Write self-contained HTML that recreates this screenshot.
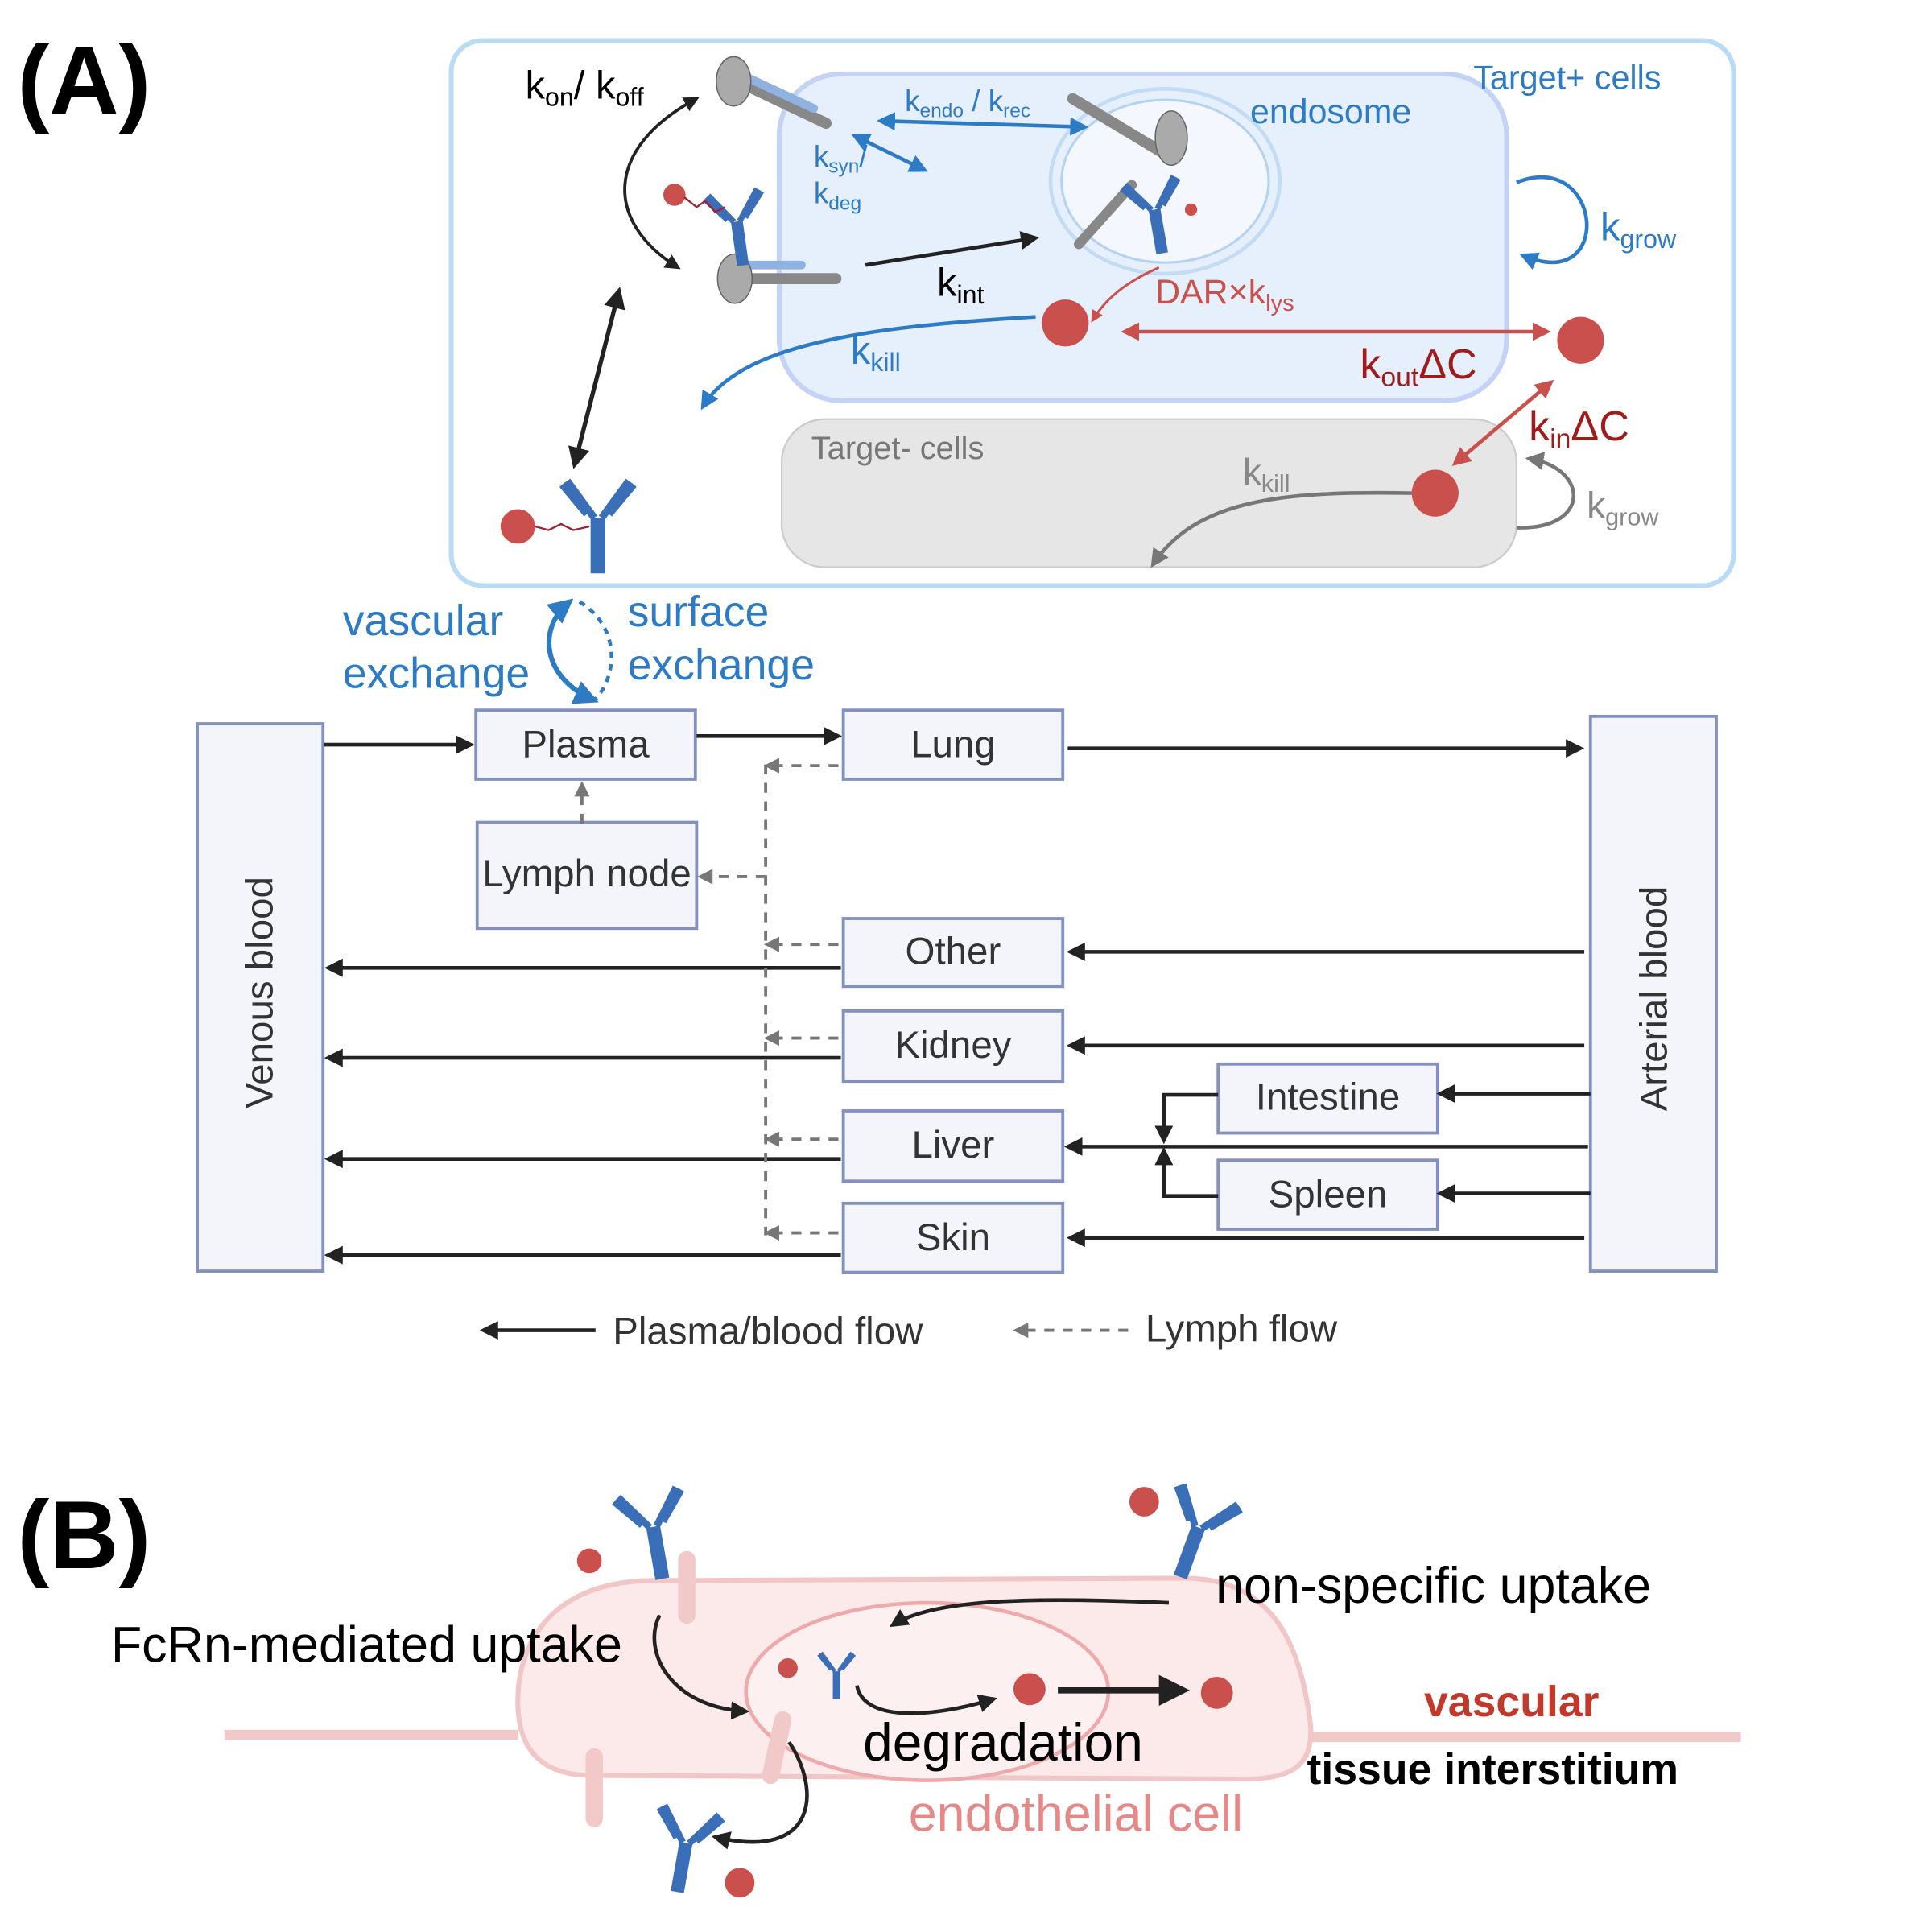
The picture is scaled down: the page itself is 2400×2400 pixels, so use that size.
<!DOCTYPE html>
<html><head><meta charset="utf-8"><style>
html,body{margin:0;padding:0;background:#fff;}
svg{display:block;}
text{font-family:"Liberation Sans",sans-serif;}
</style></head><body>
<svg width="2400" height="2400" viewBox="0 0 1567 1567" xmlns="http://www.w3.org/2000/svg">
<defs>
<marker id="ak" viewBox="0 0 10 10" refX="8" refY="5" markerWidth="5" markerHeight="5" orient="auto-start-reverse"><path d="M0,0L10,5L0,10z" fill="#222"/></marker>
<marker id="ab" viewBox="0 0 10 10" refX="8" refY="5" markerWidth="5" markerHeight="5" orient="auto-start-reverse"><path d="M0,0L10,5L0,10z" fill="#2d7bc4"/></marker>
<marker id="ar" viewBox="0 0 10 10" refX="8" refY="5" markerWidth="5" markerHeight="5" orient="auto-start-reverse"><path d="M0,0L10,5L0,10z" fill="#c9504c"/></marker>
<marker id="ag" viewBox="0 0 10 10" refX="8" refY="5" markerWidth="5" markerHeight="5" orient="auto-start-reverse"><path d="M0,0L10,5L0,10z" fill="#777"/></marker>
<g id="ab1">
<path d="M0,0 L0,-45 M-6,0 L-6,-45 M0,-45 L22,-75 M-6,-45 L-28,-75 M6,-48 L26,-72 M-12,-48 L-32,-72" stroke="#3a6fb8" stroke-width="6" fill="none"/>
</g>
</defs>

<!-- (A) -->
<text x="14" y="92" font-size="78" font-weight="bold">(A)</text>
<rect x="366" y="33" width="1040" height="442" rx="25" fill="#fff" stroke="#b9dcf4" stroke-width="4"/>
<rect x="632" y="60" width="590" height="265" rx="50" fill="#e6f0fd" stroke="#c4d3f5" stroke-width="4"/>
<ellipse cx="945" cy="147" rx="93" ry="75" fill="none" stroke="#c3dbf3" stroke-width="3"/>
<ellipse cx="945" cy="147" rx="84" ry="66" fill="#f4f8fe" stroke="#b5d2f0" stroke-width="2"/>
<rect x="634" y="340" width="596" height="120" rx="35" fill="#e6e6e6" stroke="#ccc" stroke-width="1.5"/>

<text x="1195" y="72" font-size="27" fill="#2d7bc4">Target+ cells</text>
<text x="1014" y="100" font-size="28" fill="#2d7bc4">endosome</text>
<text x="426" y="80" font-size="32">k<tspan font-size="21" dy="6">on</tspan><tspan dy="-6">/ k</tspan><tspan font-size="21" dy="6">off</tspan></text>
<text x="734" y="90" font-size="24" fill="#2d7bc4">k<tspan font-size="16" dy="5">endo</tspan><tspan dy="-5"> / k</tspan><tspan font-size="16" dy="5">rec</tspan></text>
<text x="660" y="135" font-size="24" fill="#2d7bc4">k<tspan font-size="16" dy="5">syn</tspan><tspan dy="-5">/</tspan></text>
<text x="660" y="165" font-size="24" fill="#2d7bc4">k<tspan font-size="16" dy="5">deg</tspan></text>
<text x="760" y="240" font-size="32">k<tspan font-size="21" dy="6">int</tspan></text>
<text x="1298" y="195" font-size="32" fill="#2d7bc4">k<tspan font-size="21" dy="6">grow</tspan></text>
<text x="937" y="246" font-size="28" fill="#c9504c">DAR×k<tspan font-size="19" dy="6">lys</tspan></text>
<text x="690" y="295" font-size="32" fill="#2d7bc4">k<tspan font-size="21" dy="6">kill</tspan></text>
<text x="1103" y="307" font-size="34" fill="#a01c1c">k<tspan font-size="22" dy="6">out</tspan><tspan dy="-6">ΔC</tspan></text>
<text x="1240" y="357" font-size="34" fill="#a01c1c">k<tspan font-size="22" dy="6">in</tspan><tspan dy="-6">ΔC</tspan></text>
<text x="658" y="372" font-size="26" fill="#777">Target- cells</text>
<text x="1008" y="393" font-size="30" fill="#888">k<tspan font-size="20" dy="6">kill</tspan></text>
<text x="1287" y="420" font-size="30" fill="#888">k<tspan font-size="20" dy="6">grow</tspan></text>

<!-- receptors -->
<g stroke-linecap="round">
<line x1="590" y1="62" x2="670" y2="100" stroke="#888" stroke-width="9"/>
<line x1="600" y1="60" x2="660" y2="88" stroke="#8fb2e0" stroke-width="7"/>
<ellipse cx="595" cy="66" rx="14" ry="20" fill="#aaa" stroke="#666"/>
<line x1="595" y1="226" x2="678" y2="226" stroke="#888" stroke-width="9"/>
<line x1="600" y1="215" x2="650" y2="215" stroke="#8fb2e0" stroke-width="7"/>
<ellipse cx="596" cy="226" rx="14" ry="20" fill="#aaa" stroke="#666"/>
<line x1="870" y1="80" x2="945" y2="125" stroke="#888" stroke-width="9"/>
<ellipse cx="950" cy="112" rx="13" ry="22" fill="#aaa" stroke="#666"/>
<line x1="918" y1="150" x2="875" y2="198" stroke="#888" stroke-width="8"/>
</g>
<use href="#ab1" transform="translate(605,215) rotate(-8) scale(0.8)"/>
<use href="#ab1" transform="translate(945,205) rotate(-10) scale(0.8)"/>
<circle cx="547" cy="158" r="9" fill="#c9504c"/>
<polyline points="555,160 565,168 572,163 580,172 588,168" fill="none" stroke="#a02030" stroke-width="1.5"/>
<circle cx="966" cy="170" r="5" fill="#c9504c"/>
<use href="#ab1" transform="translate(488,465)"/>
<circle cx="420" cy="427" r="14" fill="#c9504c"/>
<polyline points="434,427 445,430 455,425 465,430 478,427" fill="none" stroke="#a02030" stroke-width="1.5"/>

<!-- arrows top -->
<path d="M565,80 C490,120 490,180 550,217" fill="none" stroke="#222" stroke-width="2.5" marker-start="url(#ak)" marker-end="url(#ak)"/>
<line x1="502" y1="236" x2="466" y2="377" stroke="#222" stroke-width="3.5" marker-start="url(#ak)" marker-end="url(#ak)"/>
<line x1="714" y1="98" x2="880" y2="103" stroke="#2d7bc4" stroke-width="3" marker-start="url(#ab)" marker-end="url(#ab)"/>
<line x1="693" y1="110" x2="750" y2="138" stroke="#2d7bc4" stroke-width="3" marker-start="url(#ab)" marker-end="url(#ab)"/>
<line x1="702" y1="215" x2="840" y2="193" stroke="#222" stroke-width="3" marker-end="url(#ak)"/>
<path d="M840,257 C700,265 600,280 570,330" fill="none" stroke="#2d7bc4" stroke-width="3" marker-end="url(#ab)"/>
<path d="M940,217 C910,230 895,245 886,260" fill="none" stroke="#c9504c" stroke-width="2" marker-end="url(#ar)"/>
<circle cx="864" cy="262" r="19" fill="#c9504c"/>
<circle cx="1282" cy="276" r="19" fill="#c9504c"/>
<circle cx="1164" cy="400" r="19" fill="#c9504c"/>
<line x1="912" y1="269" x2="1255" y2="269" stroke="#c9504c" stroke-width="3" marker-start="url(#ar)" marker-end="url(#ar)"/>
<line x1="1258" y1="310" x2="1180" y2="376" stroke="#c9504c" stroke-width="3" marker-start="url(#ar)" marker-end="url(#ar)"/>
<path d="M1230,148 C1300,120 1310,240 1235,207" fill="none" stroke="#2d7bc4" stroke-width="3" marker-end="url(#ab)"/>
<path d="M1145,400 C1040,398 970,405 935,458" fill="none" stroke="#777" stroke-width="3" marker-end="url(#ag)"/>
<path d="M1230,428 C1290,430 1290,380 1240,372" fill="none" stroke="#777" stroke-width="3" marker-end="url(#ag)"/>

<text x="278" y="515" font-size="35" fill="#2d7bc4">vascular</text>
<text x="278" y="558" font-size="35" fill="#2d7bc4">exchange</text>
<text x="509" y="508" font-size="35" fill="#2d7bc4">surface</text>
<text x="509" y="551" font-size="35" fill="#2d7bc4">exchange</text>
<path d="M462,488 C435,510 440,550 482,568" fill="none" stroke="#2d7bc4" stroke-width="4" marker-start="url(#ab)" marker-end="url(#ab)"/>
<path d="M470,488 C505,510 500,550 482,568" fill="none" stroke="#2d7bc4" stroke-width="3" stroke-dasharray="5,5"/>

<!-- boxes -->
<g fill="#f3f5fb" stroke="#8490bd" stroke-width="2.5">
<rect x="160" y="587" width="102" height="444"/>
<rect x="1290" y="581" width="102" height="450"/>
<rect x="386" y="576" width="178" height="56"/>
<rect x="684" y="576" width="178" height="56"/>
<rect x="387" y="667" width="178" height="86"/>
<rect x="684" y="745" width="178" height="55"/>
<rect x="684" y="820" width="178" height="57"/>
<rect x="684" y="901" width="178" height="57"/>
<rect x="684" y="976" width="178" height="56"/>
<rect x="988" y="863" width="178" height="56"/>
<rect x="988" y="941" width="178" height="56"/>
</g>
<g font-size="31" fill="#333" text-anchor="middle">
<text x="475" y="614">Plasma</text>
<text x="773" y="614">Lung</text>
<text x="476" y="719">Lymph node</text>
<text x="773" y="782">Other</text>
<text x="773" y="858">Kidney</text>
<text x="773" y="939">Liver</text>
<text x="773" y="1014">Skin</text>
<text x="1077" y="900">Intestine</text>
<text x="1077" y="979">Spleen</text>
<text transform="translate(221,805) rotate(-90)">Venous blood</text>
<text transform="translate(1352,810) rotate(-90)">Arterial blood</text>
</g>
<g stroke="#222" stroke-width="3" fill="none" marker-end="url(#ak)">
<line x1="263" y1="604" x2="382" y2="604"/>
<line x1="565" y1="597" x2="680" y2="597"/>
<line x1="866" y1="607" x2="1282" y2="607"/>
<line x1="1285" y1="772" x2="868" y2="772"/>
<line x1="682" y1="785" x2="266" y2="785"/>
<line x1="1285" y1="848" x2="868" y2="848"/>
<line x1="682" y1="858" x2="266" y2="858"/>
<line x1="1288" y1="930" x2="866" y2="930"/>
<line x1="682" y1="940" x2="266" y2="940"/>
<line x1="1285" y1="1004" x2="868" y2="1004"/>
<line x1="682" y1="1018" x2="266" y2="1018"/>
<line x1="1290" y1="887" x2="1168" y2="887"/>
<line x1="1290" y1="968" x2="1168" y2="968"/>
<polyline points="988,888 944,888 944,925"/>
<polyline points="988,970 944,970 944,933"/>
<line x1="483" y1="1079" x2="392" y2="1079"/>
</g>
<g stroke="#777" stroke-width="2.5" fill="none" stroke-dasharray="8,7">
<line x1="621" y1="620" x2="621" y2="1002"/>
<line x1="472" y1="668" x2="472" y2="636" marker-end="url(#ag)"/>
<line x1="680" y1="621" x2="622" y2="621" marker-end="url(#ag)"/>
<line x1="621" y1="711" x2="568" y2="711" marker-end="url(#ag)"/>
<line x1="680" y1="766" x2="622" y2="766" marker-end="url(#ag)"/>
<line x1="680" y1="842" x2="622" y2="842" marker-end="url(#ag)"/>
<line x1="680" y1="924" x2="622" y2="924" marker-end="url(#ag)"/>
<line x1="680" y1="1000" x2="622" y2="1000" marker-end="url(#ag)"/>
<line x1="915" y1="1079" x2="824" y2="1079" marker-end="url(#ag)"/>
</g>
<text x="497" y="1090" font-size="31" fill="#333">Plasma/blood flow</text>
<text x="929" y="1088" font-size="31" fill="#333">Lymph flow</text>

<!-- (B) -->
<text x="14" y="1272" font-size="78" font-weight="bold">(B)</text>
<line x1="182" y1="1407" x2="420" y2="1407" stroke="#f2c9c9" stroke-width="8"/>
<line x1="1063" y1="1409" x2="1412" y2="1409" stroke="#f2c9c9" stroke-width="8"/>
<path d="M530,1282 L960,1280 C1030,1280 1055,1330 1063,1400 C1065,1430 1050,1443 1010,1443 L480,1440 C440,1440 420,1420 420,1380 C420,1330 450,1282 530,1282 Z" fill="#fce9e9" stroke="#f1c6c6" stroke-width="4"/>
<ellipse cx="752" cy="1372" rx="147" ry="72" fill="#fdf0f0" stroke="#eeaaaa" stroke-width="3"/>
<g stroke="#f2c9c9" stroke-width="14" stroke-linecap="round">
<line x1="557" y1="1265" x2="557" y2="1310"/>
<line x1="482" y1="1425" x2="482" y2="1475"/>
<line x1="635" y1="1395" x2="625" y2="1440"/>
</g>
<use href="#ab1" transform="translate(540,1280) rotate(-10) scale(0.95)"/>
<circle cx="478" cy="1266" r="10" fill="#c9504c"/>
<use href="#ab1" transform="translate(960,1280) rotate(20) scale(0.95)"/>
<circle cx="928" cy="1218" r="12" fill="#c9504c"/>
<use href="#ab1" transform="translate(552,1535) rotate(10) scale(0.9)"/>
<circle cx="600" cy="1527" r="12" fill="#c9504c"/>
<use href="#ab1" transform="translate(680,1378) scale(0.5)"/>
<circle cx="639" cy="1353" r="8" fill="#c9504c"/>
<circle cx="835" cy="1370" r="13" fill="#c9504c"/>
<circle cx="987" cy="1373" r="13" fill="#c9504c"/>
<g stroke="#222" stroke-width="3" fill="none" marker-end="url(#ak)">
<path d="M535,1310 C520,1340 545,1385 605,1388"/>
<path d="M948,1300 C850,1296 760,1295 724,1318"/>
<path d="M695,1367 C700,1395 750,1395 806,1378"/>
<line x1="858" y1="1371" x2="960" y2="1371" stroke-width="5"/>
<path d="M640,1413 C665,1450 665,1510 580,1490"/>
</g>
<text x="90" y="1348" font-size="41">FcRn-mediated uptake</text>
<text x="986" y="1300" font-size="41">non-specific uptake</text>
<text x="700" y="1428" font-size="43">degradation</text>
<text x="737" y="1485" font-size="41" fill="#e48888">endothelial cell</text>
<text x="1155" y="1392" font-size="35" font-weight="bold" fill="#c0392b">vascular</text>
<text x="1060" y="1447" font-size="35" font-weight="bold">tissue interstitium</text>
</svg>
</body></html>
